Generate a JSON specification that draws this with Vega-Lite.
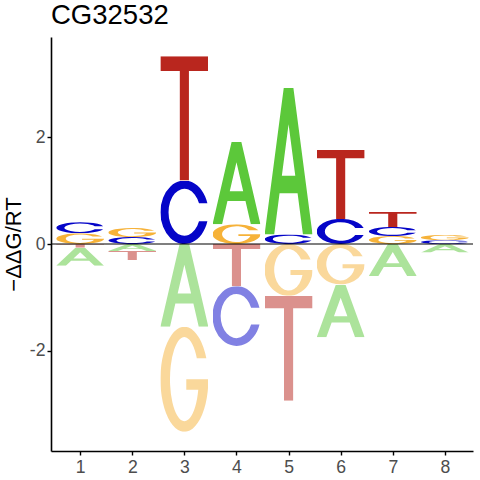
{
  "$schema": "https://vega.github.io/schema/vega-lite/v6.json",
  "width": 422,
  "height": 414,
  "autosize": {"type": "none"},
  "padding": {"left": 51, "top": 37, "right": 7, "bottom": 29},
  "background": "white",
  "title": {
    "text": "CG32532",
    "anchor": "start",
    "frame": "group",
    "font": "Liberation Sans",
    "fontSize": 27.5,
    "fontWeight": "normal",
    "color": "black",
    "offset": 8
  },
  "config": {
    "view": {"stroke": null},
    "axis": {
      "grid": false,
      "domainColor": "black",
      "domainWidth": 1.6,
      "tickColor": "black",
      "tickWidth": 1.4,
      "tickSize": 4,
      "labelFont": "Liberation Sans",
      "labelFontSize": 17.6,
      "labelColor": "#4D4D4D",
      "titleFont": "Liberation Sans",
      "titleFontWeight": "normal",
      "titleColor": "black"
    }
  },
  "layer": [
    {
      "data": {
        "values": [
          {"pos": 1, "letter": "G", "value": 0.20},
          {"pos": 1, "letter": "C", "value": 0.21},
          {"pos": 1, "letter": "T", "value": -0.07},
          {"pos": 1, "letter": "A", "value": -0.34},
          {"pos": 2, "letter": "C", "value": 0.13},
          {"pos": 2, "letter": "G", "value": 0.17},
          {"pos": 2, "letter": "A", "value": -0.13},
          {"pos": 2, "letter": "T", "value": -0.17},
          {"pos": 3, "letter": "C", "value": 1.19},
          {"pos": 3, "letter": "T", "value": 2.33},
          {"pos": 3, "letter": "A", "value": -1.55},
          {"pos": 3, "letter": "G", "value": -1.97},
          {"pos": 4, "letter": "G", "value": 0.37},
          {"pos": 4, "letter": "A", "value": 1.55},
          {"pos": 4, "letter": "T", "value": -0.79},
          {"pos": 4, "letter": "C", "value": -1.12},
          {"pos": 5, "letter": "C", "value": 0.18},
          {"pos": 5, "letter": "A", "value": 2.75},
          {"pos": 5, "letter": "G", "value": -0.97},
          {"pos": 5, "letter": "T", "value": -1.97},
          {"pos": 6, "letter": "C", "value": 0.47},
          {"pos": 6, "letter": "T", "value": 1.29},
          {"pos": 6, "letter": "G", "value": -0.76},
          {"pos": 6, "letter": "A", "value": -0.99},
          {"pos": 7, "letter": "G", "value": 0.15},
          {"pos": 7, "letter": "C", "value": 0.17},
          {"pos": 7, "letter": "T", "value": 0.28},
          {"pos": 7, "letter": "A", "value": -0.60},
          {"pos": 8, "letter": "C", "value": 0.07},
          {"pos": 8, "letter": "G", "value": 0.10},
          {"pos": 8, "letter": "A", "value": -0.16}
        ]
      },
      "transform": [
        {"calculate": "abs(datum.value)", "as": "mag"},
        {"stack": "value", "groupby": ["pos"], "sort": [{"field": "mag", "order": "ascending"}], "as": ["y0", "y1"]},
        {"calculate": "datum.pos - 0.46", "as": "x0"},
        {"calculate": "datum.pos + 0.46", "as": "x1"}
      ],
      "encoding": {
        "x": {
          "field": "x0",
          "type": "quantitative",
          "scale": {"domain": [0.44, 8.54], "nice": false, "zero": false},
          "axis": {"values": [1, 2, 3, 4, 5, 6, 7, 8], "title": null, "labelPadding": 3}
        },
        "x2": {"field": "x1"},
        "y": {
          "field": "y0",
          "type": "quantitative",
          "scale": {"domain": [-3.88, 3.88], "nice": false, "zero": false},
          "axis": {
            "values": [-2, 0, 2],
            "labelExpr": "'' + datum.value",
            "labelPadding": 2,
            "title": "−ΔΔG/RT",
            "titleFontSize": 22,
            "titlePadding": 4
          }
        },
        "y2": {"field": "y1"},
        "opacity": {"condition": {"test": "datum.value < 0", "value": 0.5}, "value": 1}
      },
      "layer": [
        {
          "transform": [{"filter": "datum.letter == 'A'"}],
          "mark": {"type": "image", "aspect": false},
          "encoding": {"url": {"value": "data:image/svg+xml,<svg xmlns='http://www.w3.org/2000/svg' width='100' height='100' viewBox='0 0 100 100' preserveAspectRatio='none'><path fill='rgb(92,200,58)' fill-rule='evenodd' d='M0 100L40 0H60L100 100H80L68.8 72H31.2L20 100ZM36 60H64L50 25Z'/></svg>"}}
        },
        {
          "transform": [{"filter": "datum.letter == 'C'"}],
          "mark": {"type": "image", "aspect": false},
          "encoding": {"url": {"value": "data:image/svg+xml,<svg xmlns='http://www.w3.org/2000/svg' width='100' height='100' viewBox='0 0 100 100' preserveAspectRatio='none'><path fill='rgb(5,5,200)' d='M98 36A50 50 0 1 0 98 64L80.5 64A33 37 0 1 1 80.5 36Z'/></svg>"}}
        },
        {
          "transform": [{"filter": "datum.letter == 'G'"}],
          "mark": {"type": "image", "aspect": false},
          "encoding": {"url": {"value": "data:image/svg+xml,<svg xmlns='http://www.w3.org/2000/svg' width='100' height='100' viewBox='0 0 100 100' preserveAspectRatio='none'><path fill='rgb(246,178,57)' d='M95.8 30A50 50 0 1 0 100 50H54V60H79A30 40 0 1 1 76 30Z'/></svg>"}}
        },
        {
          "transform": [{"filter": "datum.letter == 'T'"}],
          "mark": {"type": "image", "aspect": false},
          "encoding": {"url": {"value": "data:image/svg+xml,<svg xmlns='http://www.w3.org/2000/svg' width='100' height='100' viewBox='0 0 100 100' preserveAspectRatio='none'><path fill='rgb(185,38,30)' d='M0 0H100V12H59.5V100H40.5V12H0Z'/></svg>"}}
        }
      ]
    },
    {
      "data": {"values": [{"level": 0}]},
      "mark": {"type": "rule", "color": "black", "strokeWidth": 1.2},
      "encoding": {"y": {"field": "level", "type": "quantitative"}}
    }
  ]
}
